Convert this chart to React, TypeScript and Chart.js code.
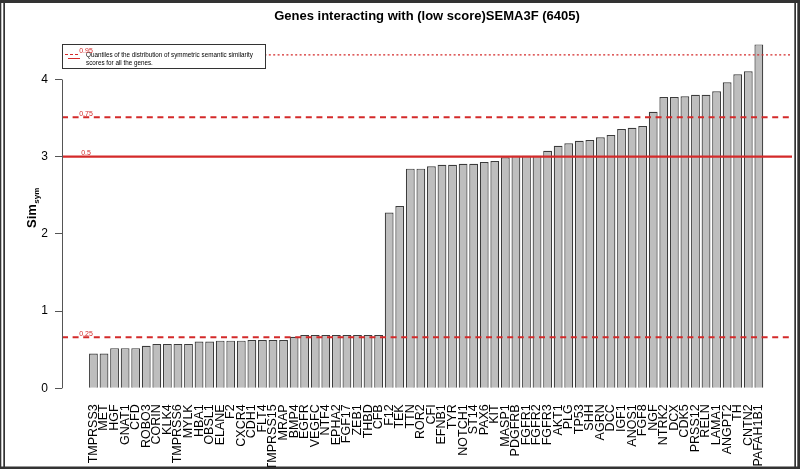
import React, { useEffect, useRef } from "react";
import { Chart, registerables } from "chart.js";

Chart.register(...registerables);

const genes = [
  "TMPRSS3", "MET", "HGF", "GNAT1", "CFD", "ROBO3", "CORIN", "KLK4", "TMPRSS6", "MYLK",
  "HBA1", "OBSL1", "ELANE", "F2", "CXCR4", "CDH1", "FLT4", "TMPRSS15", "MRAP", "BMP4",
  "EGFR", "VEGFC", "NTF4", "EPHA2", "FGF17", "ZEB1", "THBD", "CFB", "F12", "TEK",
  "TTN", "ROR2", "CFI", "EFNB1", "TYR", "NOTCH1", "ST14", "PAX6", "KIT", "MASP1",
  "PDGFRB", "FGFR1", "FGFR2", "FGFR3", "AKT1", "PLG", "TP53", "SHH", "AGRN", "DCC",
  "IGF1", "ANOS1", "FGF8", "NGF", "NTRK2", "DCX", "CDK5", "PRSS12", "RELN", "LAMA1",
  "ANGPT2", "TH", "CNTN2", "PAFAH1B1",
];

const simValues = [
  0.45, 0.45, 0.52, 0.52, 0.52, 0.55, 0.575, 0.575, 0.575, 0.575,
  0.605, 0.605, 0.617, 0.617, 0.617, 0.626, 0.626, 0.626, 0.626, 0.668,
  0.69, 0.69, 0.69, 0.69, 0.69, 0.69, 0.69, 0.69, 2.277, 2.36,
  2.845, 2.845, 2.876, 2.896, 2.896, 2.909, 2.909, 2.931, 2.944, 2.992,
  3.013, 3.013, 3.013, 3.078, 3.142, 3.174, 3.207, 3.216, 3.251, 3.281,
  3.359, 3.376, 3.398, 3.583, 3.773, 3.773, 3.782, 3.803, 3.803, 3.847,
  3.964, 4.067, 4.106, 4.455,
];

const yTicks = [0, 1, 2, 3, 4];

const quantileLabels = ["0.95", "0.75", "0.5", "0.25"];
const quantileValues = [4.32, 3.51, 3.0, 0.66];
const quantileStyles = ["dotted", "dashed", "solid", "dashed"];

const titleText = "Genes interacting with (low score)SEMA3F (6405)";
const legendLines = [
  "Quantiles of the distribution of symmetric semantic similarity",
  "scores for all the genes.",
];

const FONT = "'Liberation Sans', Arial, Helvetica, sans-serif";
const RED = "#d42a2a";

const decorPlugin = {
  id: "decor",
  afterDatasetsDraw(chart: any) {
    const ctx = chart.ctx;
    const area = chart.chartArea;
    const ys = chart.scales.y;
    ctx.save();
    // quantile lines
    quantileValues.forEach((v, i) => {
      const y = ys.getPixelForValue(v);
      const style = quantileStyles[i];
      ctx.beginPath();
      ctx.strokeStyle = RED;
      if (style === "dotted") {
        ctx.lineWidth = 1.3;
        ctx.setLineDash([2, 2.4]);
      } else if (style === "dashed") {
        ctx.lineWidth = 2;
        ctx.setLineDash([6, 4.6]);
      } else {
        ctx.lineWidth = 2.2;
        ctx.setLineDash([]);
      }
      ctx.moveTo(area.left, y);
      ctx.lineTo(area.right, y);
      ctx.stroke();
    });
    ctx.setLineDash([]);

    // legend box
    const lx = area.left;
    const ly = area.top;
    const lw = 203;
    const lh = 24;
    ctx.fillStyle = "#ffffff";
    ctx.fillRect(lx, ly, lw, lh);
    ctx.strokeStyle = "#333";
    ctx.lineWidth = 1;
    ctx.strokeRect(lx + 0.5, ly + 0.5, lw, lh);
    // legend sample
    ctx.strokeStyle = RED;
    ctx.lineWidth = 1;
    ctx.setLineDash([3, 2]);
    ctx.beginPath();
    ctx.moveTo(lx + 3, ly + 10.5);
    ctx.lineTo(lx + 18, ly + 10.5);
    ctx.stroke();
    ctx.setLineDash([]);
    ctx.beginPath();
    ctx.moveTo(lx + 6, ly + 14.5);
    ctx.lineTo(lx + 18, ly + 14.5);
    ctx.stroke();
    ctx.fillStyle = "#000";
    ctx.font = `6.3px ${FONT}`;
    ctx.textAlign = "left";
    ctx.textBaseline = "alphabetic";
    ctx.fillText(legendLines[0], lx + 24, ly + 12.5);
    ctx.fillText(legendLines[1], lx + 24, ly + 20.5);

    // quantile labels
    ctx.fillStyle = RED;
    ctx.font = `7px ${FONT}`;
    ctx.textAlign = "center";
    quantileValues.forEach((v, i) => {
      const y = ys.getPixelForValue(v);
      ctx.fillText(quantileLabels[i], area.left + 24, y - 1.5);
    });
    ctx.restore();
  },
  afterDraw(chart: any) {
    const ctx = chart.ctx;
    const area = chart.chartArea;
    const ys = chart.scales.y;
    ctx.save();
    // y axis line from 0 to 4
    ctx.strokeStyle = "#555";
    ctx.lineWidth = 1;
    ctx.beginPath();
    ctx.moveTo(area.left + 0.5, ys.getPixelForValue(yTicks[0]));
    ctx.lineTo(area.left + 0.5, ys.getPixelForValue(yTicks[yTicks.length - 1]));
    ctx.stroke();

    // title
    ctx.fillStyle = "#000";
    ctx.font = `bold 13px ${FONT}`;
    ctx.textAlign = "center";
    ctx.textBaseline = "alphabetic";
    ctx.fillText(titleText, (area.left + area.right) / 2, 20);

    // y axis title Sim_sym
    ctx.translate(36, 214);
    ctx.rotate(-Math.PI / 2);
    ctx.font = `bold 13px ${FONT}`;
    ctx.textAlign = "left";
    const w = ctx.measureText("Sim").width;
    ctx.fillText("Sim", -14, 0);
    ctx.font = `bold 8px ${FONT}`;
    ctx.fillText("sym", -14 + w + 0.5, 3);
    ctx.setTransform(1, 0, 0, 1, 0, 0);

    // outer frame
    ctx.fillStyle = "#333";
    const W = chart.width;
    const H = chart.height;
    ctx.fillRect(0, 0, W, 3);
    ctx.fillRect(0, H - 2.5, W, 2.5);
    ctx.fillRect(0, 0, 1.3, H);
    ctx.fillRect(3.3, 0, 1.7, H);
    ctx.fillRect(794.3, 0, 1.7, H);
    ctx.fillRect(797.3, 0, 2.7, H);
    ctx.restore();
  },
};

export default function App() {
  const ref = useRef<HTMLCanvasElement | null>(null);
  useEffect(() => {
    if (!ref.current) return;
    const chart = new Chart(ref.current, {
      type: "bar",
      data: {
        datasets: [
          {
            data: genes.map((g, i) => ({ x: i, y: simValues[i] })),
            backgroundColor: "#bebebe",
            borderColor: "#3c3c3c",
            borderWidth: 1.2,
            barPercentage: 1 / 1.2,
            categoryPercentage: 1,
          },
        ],
      },
      options: {
        animation: false,
        responsive: false,
        devicePixelRatio: 1,
        layout: { padding: { top: 44, right: 8, left: 0, bottom: 0 } },
        plugins: {
          legend: { display: false },
          title: { display: false },
          tooltip: { enabled: false },
        },
        scales: {
          x: {
            type: "linear",
            offset: false,
            min: -2.977,
            max: 66.14,
            grid: { display: false, drawTicks: false },
            border: { display: false },
            afterBuildTicks: (axis: any) => {
              axis.ticks = genes.map((_, i) => ({ value: i }));
            },
            afterFit: (axis: any) => {
              axis.height = 80.7;
            },
            ticks: {
              autoSkip: false,
              maxRotation: 90,
              minRotation: 90,
              padding: 16,
              color: "#000",
              font: { family: FONT, size: 12.5 },
              callback: (value: any) => genes[value as number] ?? "",
            },
          },
          y: {
            type: "linear",
            min: 0,
            max: 4.46,
            grid: {
              drawOnChartArea: false,
              drawTicks: true,
              tickLength: 7,
              color: "#555",
            },
            border: { display: false },
            afterBuildTicks: (axis: any) => {
              axis.ticks = yTicks.map((v) => ({ value: v }));
            },
            afterFit: (axis: any) => {
              axis.width = 62;
            },
            ticks: {
              padding: 7,
              color: "#000",
              font: { family: FONT, size: 12 },
              callback: (value: any) => String(value),
            },
          },
        },
      },
      plugins: [decorPlugin],
    });
    return () => chart.destroy();
  }, []);
  return (
    <div style={{ position: "absolute", left: 0, top: 0, width: 800, height: 469, background: "#fff" }}>
      <canvas ref={ref} width={800} height={469} />
    </div>
  );
}
